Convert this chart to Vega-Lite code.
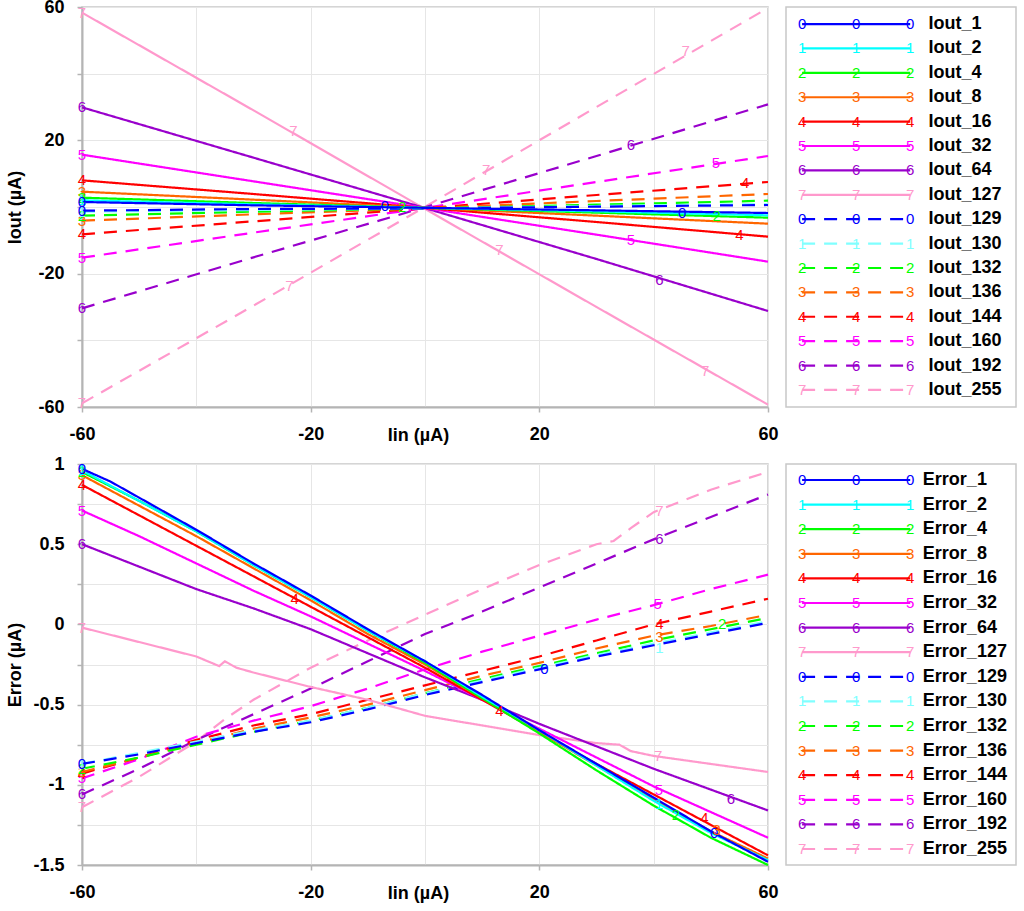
{
  "$schema": "https://vega.github.io/schema/vega-lite/v6.json",
  "description": "Iout and Error versus Iin for 16 codes",
  "background": "white",
  "padding": {"left": 5, "top": -3, "right": 0, "bottom": 0},

  "datasets": {
    "series": [
      {"s": "1", "d": "0", "top": "Iout_1", "bot": "Error_1"},
      {"s": "2", "d": "1", "top": "Iout_2", "bot": "Error_2"},
      {"s": "4", "d": "2", "top": "Iout_4", "bot": "Error_4"},
      {"s": "8", "d": "3", "top": "Iout_8", "bot": "Error_8"},
      {"s": "16", "d": "4", "top": "Iout_16", "bot": "Error_16"},
      {"s": "32", "d": "5", "top": "Iout_32", "bot": "Error_32"},
      {"s": "64", "d": "6", "top": "Iout_64", "bot": "Error_64"},
      {"s": "127", "d": "7", "top": "Iout_127", "bot": "Error_127"},
      {"s": "129", "d": "0", "top": "Iout_129", "bot": "Error_129"},
      {"s": "130", "d": "1", "top": "Iout_130", "bot": "Error_130"},
      {"s": "132", "d": "2", "top": "Iout_132", "bot": "Error_132"},
      {"s": "136", "d": "3", "top": "Iout_136", "bot": "Error_136"},
      {"s": "144", "d": "4", "top": "Iout_144", "bot": "Error_144"},
      {"s": "160", "d": "5", "top": "Iout_160", "bot": "Error_160"},
      {"s": "192", "d": "6", "top": "Iout_192", "bot": "Error_192"},
      {"s": "255", "d": "7", "top": "Iout_255", "bot": "Error_255"}
    ],

    "iout": [
      {"s": "255", "x": -60, "y": -58.9}, {"s": "255", "x": -30, "y": -29.6}, {"s": "255", "x": 0, "y": 0.06}, {"s": "255", "x": 30, "y": 30.0}, {"s": "255", "x": 60, "y": 59.7},
      {"s": "192", "x": -60, "y": -30.4}, {"s": "192", "x": -30, "y": -15.1}, {"s": "192", "x": 0, "y": -0.06}, {"s": "192", "x": 30, "y": 15.3}, {"s": "192", "x": 60, "y": 30.8},
      {"s": "160", "x": -60, "y": -15.2}, {"s": "160", "x": -30, "y": -7.7}, {"s": "160", "x": 0, "y": -0.28}, {"s": "160", "x": 30, "y": 7.5}, {"s": "160", "x": 60, "y": 15.3},
      {"s": "144", "x": -60, "y": -8.2}, {"s": "144", "x": -30, "y": -4.3}, {"s": "144", "x": 0, "y": -0.38}, {"s": "144", "x": 30, "y": 3.6}, {"s": "144", "x": 60, "y": 7.5},
      {"s": "136", "x": -60, "y": -4.1}, {"s": "136", "x": -30, "y": -2.2}, {"s": "136", "x": 0, "y": -0.4}, {"s": "136", "x": 30, "y": 1.8}, {"s": "136", "x": 60, "y": 3.9},
      {"s": "132", "x": -60, "y": -2.6}, {"s": "132", "x": -30, "y": -1.4}, {"s": "132", "x": 0, "y": -0.43}, {"s": "132", "x": 30, "y": 0.7}, {"s": "132", "x": 60, "y": 1.9},
      {"s": "130", "x": -60, "y": -1.4}, {"s": "130", "x": -30, "y": -0.9}, {"s": "130", "x": 0, "y": -0.44}, {"s": "130", "x": 30, "y": 0.3}, {"s": "130", "x": 60, "y": 0.9},
      {"s": "129", "x": -60, "y": -1.1}, {"s": "129", "x": -30, "y": -0.6}, {"s": "129", "x": 0, "y": -0.44}, {"s": "129", "x": 30, "y": 0.1}, {"s": "129", "x": 60, "y": 0.6},
      {"s": "127", "x": -60, "y": 58.3}, {"s": "127", "x": -30, "y": 29.0}, {"s": "127", "x": 0, "y": -0.57}, {"s": "127", "x": 30, "y": -30.0}, {"s": "127", "x": 60, "y": -59.3},
      {"s": "64", "x": -60, "y": 29.9}, {"s": "64", "x": -30, "y": 14.8}, {"s": "64", "x": 0, "y": -0.33}, {"s": "64", "x": 30, "y": -15.6}, {"s": "64", "x": 60, "y": -31.2},
      {"s": "32", "x": -60, "y": 15.7}, {"s": "32", "x": -30, "y": 7.7}, {"s": "32", "x": 0, "y": -0.3}, {"s": "32", "x": 30, "y": -8.3}, {"s": "32", "x": 60, "y": -16.4},
      {"s": "16", "x": -60, "y": 8.0}, {"s": "16", "x": -30, "y": 3.9}, {"s": "16", "x": 0, "y": -0.27}, {"s": "16", "x": 30, "y": -4.5}, {"s": "16", "x": 60, "y": -8.9},
      {"s": "8", "x": -60, "y": 4.6}, {"s": "8", "x": -30, "y": 2.2}, {"s": "8", "x": 0, "y": -0.25}, {"s": "8", "x": 30, "y": -2.6}, {"s": "8", "x": 60, "y": -5.0},
      {"s": "4", "x": -60, "y": 2.8}, {"s": "4", "x": -30, "y": 1.2}, {"s": "4", "x": 0, "y": -0.25}, {"s": "4", "x": 30, "y": -1.7}, {"s": "4", "x": 60, "y": -3.2},
      {"s": "2", "x": -60, "y": 2.0}, {"s": "2", "x": -30, "y": 0.8}, {"s": "2", "x": 0, "y": -0.25}, {"s": "2", "x": 30, "y": -1.3}, {"s": "2", "x": 60, "y": -2.5},
      {"s": "1", "x": -60, "y": 1.5}, {"s": "1", "x": -30, "y": 0.5}, {"s": "1", "x": 0, "y": -0.25}, {"s": "1", "x": 30, "y": -1.0}, {"s": "1", "x": 60, "y": -1.8}
    ],

    "iout_mk": [
      {"s": "255", "d": "7", "x": -60, "y": -58.9}, {"s": "192", "d": "6", "x": -60, "y": -30.4},
      {"s": "160", "d": "5", "x": -60, "y": -15.2}, {"s": "144", "d": "4", "x": -60, "y": -8.2},
      {"s": "136", "d": "3", "x": -60, "y": -4.1}, {"s": "132", "d": "2", "x": -60, "y": -2.6},
      {"s": "130", "d": "1", "x": -60, "y": -1.4}, {"s": "129", "d": "0", "x": -60, "y": -1.1},
      {"s": "127", "d": "7", "x": -60, "y": 58.3}, {"s": "64", "d": "6", "x": -60, "y": 29.9},
      {"s": "32", "d": "5", "x": -60, "y": 15.7}, {"s": "16", "d": "4", "x": -60, "y": 8.0},
      {"s": "8", "d": "3", "x": -60, "y": 4.6}, {"s": "4", "d": "2", "x": -60, "y": 2.8},
      {"s": "2", "d": "1", "x": -60, "y": 2.0}, {"s": "1", "d": "0", "x": -60, "y": 1.5},
      {"s": "127", "d": "7", "x": -23, "y": 22.7}, {"s": "127", "d": "7", "x": 13, "y": -12.8}, {"s": "127", "d": "7", "x": 49, "y": -49.3},
      {"s": "255", "d": "7", "x": -23.7, "y": -23.8}, {"s": "255", "d": "7", "x": 10.7, "y": 11.2}, {"s": "255", "d": "7", "x": 45.6, "y": 46.7},
      {"s": "64", "d": "6", "x": 41, "y": -21.8}, {"s": "192", "d": "6", "x": 36, "y": 18.5},
      {"s": "160", "d": "5", "x": 50.9, "y": 13.2}, {"s": "32", "d": "5", "x": 36, "y": -9.8},
      {"s": "144", "d": "4", "x": 56, "y": 7.2}, {"s": "16", "d": "4", "x": 55, "y": -8.3},
      {"s": "4", "d": "2", "x": 51, "y": -2.7}, {"s": "1", "d": "0", "x": 45, "y": -1.8},
      {"s": "1", "d": "0", "x": -7, "y": 0.2}, {"s": "132", "d": "2", "x": -4, "y": 0.1}
    ],

    "err": [
      {"s": "255", "x": -60, "y": -1.14}, {"s": "255", "x": -50, "y": -0.95}, {"s": "255", "x": -40, "y": -0.73}, {"s": "255", "x": -35, "y": -0.59}, {"s": "255", "x": -30, "y": -0.47}, {"s": "255", "x": -20, "y": -0.27}, {"s": "255", "x": -10, "y": -0.10}, {"s": "255", "x": 0, "y": 0.06}, {"s": "255", "x": 10, "y": 0.22}, {"s": "255", "x": 20, "y": 0.37}, {"s": "255", "x": 30, "y": 0.50}, {"s": "255", "x": 33, "y": 0.52}, {"s": "255", "x": 36, "y": 0.60}, {"s": "255", "x": 40, "y": 0.70}, {"s": "255", "x": 50, "y": 0.84}, {"s": "255", "x": 60, "y": 0.95},
      {"s": "192", "x": -60, "y": -1.06}, {"s": "192", "x": -50, "y": -0.90}, {"s": "192", "x": -40, "y": -0.72}, {"s": "192", "x": -30, "y": -0.56}, {"s": "192", "x": -20, "y": -0.40}, {"s": "192", "x": -10, "y": -0.23}, {"s": "192", "x": 0, "y": -0.06}, {"s": "192", "x": 10, "y": 0.08}, {"s": "192", "x": 20, "y": 0.23}, {"s": "192", "x": 30, "y": 0.38}, {"s": "192", "x": 40, "y": 0.53}, {"s": "192", "x": 50, "y": 0.67}, {"s": "192", "x": 60, "y": 0.81},
      {"s": "160", "x": -60, "y": -0.96}, {"s": "160", "x": -50, "y": -0.84}, {"s": "160", "x": -40, "y": -0.70}, {"s": "160", "x": -30, "y": -0.60}, {"s": "160", "x": -20, "y": -0.51}, {"s": "160", "x": -10, "y": -0.40}, {"s": "160", "x": 0, "y": -0.28}, {"s": "160", "x": 10, "y": -0.17}, {"s": "160", "x": 20, "y": -0.07}, {"s": "160", "x": 30, "y": 0.03}, {"s": "160", "x": 40, "y": 0.12}, {"s": "160", "x": 50, "y": 0.22}, {"s": "160", "x": 60, "y": 0.31},
      {"s": "144", "x": -60, "y": -0.93}, {"s": "144", "x": -50, "y": -0.83}, {"s": "144", "x": -40, "y": -0.72}, {"s": "144", "x": -30, "y": -0.63}, {"s": "144", "x": -20, "y": -0.56}, {"s": "144", "x": -10, "y": -0.47}, {"s": "144", "x": 0, "y": -0.38}, {"s": "144", "x": 10, "y": -0.29}, {"s": "144", "x": 20, "y": -0.20}, {"s": "144", "x": 30, "y": -0.10}, {"s": "144", "x": 40, "y": 0.00}, {"s": "144", "x": 50, "y": 0.08}, {"s": "144", "x": 60, "y": 0.16},
      {"s": "136", "x": -60, "y": -0.92}, {"s": "136", "x": -50, "y": -0.83}, {"s": "136", "x": -40, "y": -0.74}, {"s": "136", "x": -30, "y": -0.65}, {"s": "136", "x": -20, "y": -0.58}, {"s": "136", "x": -10, "y": -0.50}, {"s": "136", "x": 0, "y": -0.41}, {"s": "136", "x": 10, "y": -0.32}, {"s": "136", "x": 20, "y": -0.24}, {"s": "136", "x": 30, "y": -0.15}, {"s": "136", "x": 40, "y": -0.07}, {"s": "136", "x": 50, "y": -0.01}, {"s": "136", "x": 60, "y": 0.06},
      {"s": "132", "x": -60, "y": -0.90}, {"s": "132", "x": -50, "y": -0.83}, {"s": "132", "x": -40, "y": -0.75}, {"s": "132", "x": -30, "y": -0.67}, {"s": "132", "x": -20, "y": -0.60}, {"s": "132", "x": -10, "y": -0.52}, {"s": "132", "x": 0, "y": -0.43}, {"s": "132", "x": 10, "y": -0.34}, {"s": "132", "x": 20, "y": -0.26}, {"s": "132", "x": 30, "y": -0.18}, {"s": "132", "x": 40, "y": -0.10}, {"s": "132", "x": 50, "y": -0.03}, {"s": "132", "x": 60, "y": 0.04},
      {"s": "130", "x": -60, "y": -0.87}, {"s": "130", "x": -50, "y": -0.80}, {"s": "130", "x": -40, "y": -0.73}, {"s": "130", "x": -30, "y": -0.66}, {"s": "130", "x": -20, "y": -0.60}, {"s": "130", "x": -10, "y": -0.52}, {"s": "130", "x": 0, "y": -0.43}, {"s": "130", "x": 10, "y": -0.35}, {"s": "130", "x": 20, "y": -0.27}, {"s": "130", "x": 30, "y": -0.19}, {"s": "130", "x": 40, "y": -0.12}, {"s": "130", "x": 50, "y": -0.05}, {"s": "130", "x": 60, "y": 0.02},
      {"s": "129", "x": -60, "y": -0.87}, {"s": "129", "x": -50, "y": -0.81}, {"s": "129", "x": -40, "y": -0.74}, {"s": "129", "x": -30, "y": -0.67}, {"s": "129", "x": -20, "y": -0.61}, {"s": "129", "x": -10, "y": -0.53}, {"s": "129", "x": 0, "y": -0.44}, {"s": "129", "x": 10, "y": -0.36}, {"s": "129", "x": 20, "y": -0.28}, {"s": "129", "x": 30, "y": -0.20}, {"s": "129", "x": 40, "y": -0.13}, {"s": "129", "x": 50, "y": -0.06}, {"s": "129", "x": 60, "y": 0.01},
      {"s": "127", "x": -60, "y": -0.02}, {"s": "127", "x": -50, "y": -0.11}, {"s": "127", "x": -40, "y": -0.20}, {"s": "127", "x": -36, "y": -0.26}, {"s": "127", "x": -35, "y": -0.23}, {"s": "127", "x": -33, "y": -0.27}, {"s": "127", "x": -30, "y": -0.30}, {"s": "127", "x": -20, "y": -0.39}, {"s": "127", "x": -10, "y": -0.47}, {"s": "127", "x": 0, "y": -0.57}, {"s": "127", "x": 10, "y": -0.63}, {"s": "127", "x": 20, "y": -0.69}, {"s": "127", "x": 30, "y": -0.74}, {"s": "127", "x": 34, "y": -0.75}, {"s": "127", "x": 36, "y": -0.79}, {"s": "127", "x": 40, "y": -0.82}, {"s": "127", "x": 50, "y": -0.87}, {"s": "127", "x": 60, "y": -0.92},
      {"s": "64", "x": -60, "y": 0.50}, {"s": "64", "x": -50, "y": 0.36}, {"s": "64", "x": -40, "y": 0.22}, {"s": "64", "x": -30, "y": 0.10}, {"s": "64", "x": -20, "y": -0.03}, {"s": "64", "x": -10, "y": -0.18}, {"s": "64", "x": 0, "y": -0.33}, {"s": "64", "x": 10, "y": -0.47}, {"s": "64", "x": 20, "y": -0.62}, {"s": "64", "x": 30, "y": -0.76}, {"s": "64", "x": 40, "y": -0.90}, {"s": "64", "x": 50, "y": -1.03}, {"s": "64", "x": 60, "y": -1.16},
      {"s": "32", "x": -60, "y": 0.71}, {"s": "32", "x": -50, "y": 0.55}, {"s": "32", "x": -40, "y": 0.38}, {"s": "32", "x": -30, "y": 0.21}, {"s": "32", "x": -20, "y": 0.05}, {"s": "32", "x": -10, "y": -0.12}, {"s": "32", "x": 0, "y": -0.29}, {"s": "32", "x": 10, "y": -0.47}, {"s": "32", "x": 20, "y": -0.65}, {"s": "32", "x": 30, "y": -0.83}, {"s": "32", "x": 40, "y": -1.01}, {"s": "32", "x": 50, "y": -1.17}, {"s": "32", "x": 60, "y": -1.33},
      {"s": "16", "x": -60, "y": 0.87}, {"s": "16", "x": -50, "y": 0.68}, {"s": "16", "x": -40, "y": 0.49}, {"s": "16", "x": -30, "y": 0.30}, {"s": "16", "x": -20, "y": 0.11}, {"s": "16", "x": -10, "y": -0.08}, {"s": "16", "x": 0, "y": -0.27}, {"s": "16", "x": 10, "y": -0.47}, {"s": "16", "x": 20, "y": -0.67}, {"s": "16", "x": 30, "y": -0.87}, {"s": "16", "x": 40, "y": -1.06}, {"s": "16", "x": 50, "y": -1.25}, {"s": "16", "x": 60, "y": -1.44},
      {"s": "8", "x": -60, "y": 0.93}, {"s": "8", "x": -50, "y": 0.74}, {"s": "8", "x": -40, "y": 0.55}, {"s": "8", "x": -30, "y": 0.35}, {"s": "8", "x": -20, "y": 0.15}, {"s": "8", "x": -10, "y": -0.06}, {"s": "8", "x": 0, "y": -0.25}, {"s": "8", "x": 10, "y": -0.46}, {"s": "8", "x": 20, "y": -0.67}, {"s": "8", "x": 30, "y": -0.88}, {"s": "8", "x": 40, "y": -1.09}, {"s": "8", "x": 50, "y": -1.29}, {"s": "8", "x": 60, "y": -1.46},
      {"s": "4", "x": -60, "y": 0.95}, {"s": "4", "x": -50, "y": 0.77}, {"s": "4", "x": -40, "y": 0.58}, {"s": "4", "x": -30, "y": 0.37}, {"s": "4", "x": -20, "y": 0.17}, {"s": "4", "x": -10, "y": -0.04}, {"s": "4", "x": 0, "y": -0.24}, {"s": "4", "x": 10, "y": -0.46}, {"s": "4", "x": 20, "y": -0.68}, {"s": "4", "x": 30, "y": -0.91}, {"s": "4", "x": 40, "y": -1.13}, {"s": "4", "x": 50, "y": -1.33}, {"s": "4", "x": 60, "y": -1.50},
      {"s": "2", "x": -60, "y": 0.96}, {"s": "2", "x": -50, "y": 0.77}, {"s": "2", "x": -40, "y": 0.58}, {"s": "2", "x": -30, "y": 0.37}, {"s": "2", "x": -20, "y": 0.17}, {"s": "2", "x": -10, "y": -0.04}, {"s": "2", "x": 0, "y": -0.23}, {"s": "2", "x": 10, "y": -0.45}, {"s": "2", "x": 20, "y": -0.66}, {"s": "2", "x": 30, "y": -0.88}, {"s": "2", "x": 40, "y": -1.10}, {"s": "2", "x": 50, "y": -1.30}, {"s": "2", "x": 60, "y": -1.47},
      {"s": "1", "x": -60, "y": 0.97}, {"s": "1", "x": -55, "y": 0.89}, {"s": "1", "x": -50, "y": 0.79}, {"s": "1", "x": -40, "y": 0.59}, {"s": "1", "x": -30, "y": 0.38}, {"s": "1", "x": -20, "y": 0.18}, {"s": "1", "x": -10, "y": -0.03}, {"s": "1", "x": 0, "y": -0.23}, {"s": "1", "x": 10, "y": -0.44}, {"s": "1", "x": 20, "y": -0.66}, {"s": "1", "x": 30, "y": -0.87}, {"s": "1", "x": 40, "y": -1.08}, {"s": "1", "x": 50, "y": -1.29}, {"s": "1", "x": 60, "y": -1.48}
    ],

    "err_mk": [
      {"s": "255", "d": "7", "x": -60, "y": -1.14}, {"s": "192", "d": "6", "x": -60, "y": -1.06},
      {"s": "160", "d": "5", "x": -60, "y": -0.96}, {"s": "144", "d": "4", "x": -60, "y": -0.93},
      {"s": "136", "d": "3", "x": -60, "y": -0.92}, {"s": "132", "d": "2", "x": -60, "y": -0.90},
      {"s": "130", "d": "1", "x": -60, "y": -0.87}, {"s": "129", "d": "0", "x": -60, "y": -0.87},
      {"s": "127", "d": "7", "x": -60, "y": -0.02}, {"s": "64", "d": "6", "x": -60, "y": 0.50},
      {"s": "32", "d": "5", "x": -60, "y": 0.71}, {"s": "16", "d": "4", "x": -60, "y": 0.87},
      {"s": "8", "d": "3", "x": -60, "y": 0.93}, {"s": "4", "d": "2", "x": -60, "y": 0.95},
      {"s": "2", "d": "1", "x": -60, "y": 0.96}, {"s": "1", "d": "0", "x": -60, "y": 0.97},
      {"s": "16", "d": "4", "x": -22.8, "y": 0.16}, {"s": "16", "d": "4", "x": 13, "y": -0.54}, {"s": "16", "d": "4", "x": 48.9, "y": -1.21},
      {"s": "129", "d": "0", "x": 20.9, "y": -0.28}, {"s": "160", "d": "5", "x": 40.7, "y": 0.13},
      {"s": "144", "d": "4", "x": 41, "y": 0.0}, {"s": "136", "d": "3", "x": 41, "y": -0.08},
      {"s": "130", "d": "1", "x": 41, "y": -0.15}, {"s": "132", "d": "2", "x": 52, "y": 0.0},
      {"s": "127", "d": "7", "x": 40.8, "y": -0.82}, {"s": "255", "d": "7", "x": 41, "y": 0.71},
      {"s": "192", "d": "6", "x": 41, "y": 0.53}, {"s": "64", "d": "6", "x": 53.5, "y": -1.09},
      {"s": "32", "d": "5", "x": 40.9, "y": -1.03}, {"s": "2", "d": "1", "x": 40.9, "y": -1.12},
      {"s": "4", "d": "2", "x": 43.9, "y": -1.19}, {"s": "1", "d": "0", "x": 50.6, "y": -1.30},
      {"s": "8", "d": "3", "x": 51, "y": -1.28}
    ]
  },

  "spacing": 9,
  "resolve": {"scale": {"x": "independent", "y": "independent"}},

  "vconcat": [
    {
      "spacing": 18,
      "bounds": "flush",
      "resolve": {"scale": {"x": "independent", "y": "independent"}},
      "hconcat": [
        {
          "width": 686,
          "height": 400,
          "layer": [
            {
              "data": {"name": "iout"},
              "mark": {"type": "line", "strokeWidth": 2.2},
              "encoding": {
                "x": {
                  "field": "x", "type": "quantitative",
                  "scale": {"domain": [-60, 60], "nice": false, "zero": false},
                  "axis": {
                    "title": "Iin (µA)", "titleY": 28, "titleBaseline": "middle", "titleX": 336,
                    "values": [-60, -40, -20, 0, 20, 40, 60],
                    "labelExpr": "abs(datum.value % 40) == 20 ? '' + datum.value : ''",
                    "tickOpacity": {"condition": {"test": "abs(datum.value % 40) == 20", "value": 1}, "value": 0},
                    "labelPadding": 13, "labelFlush": false, "labelOverlap": false
                  }
                },
                "y": {
                  "field": "y", "type": "quantitative",
                  "scale": {"domain": [-60, 60], "nice": false, "zero": false},
                  "axis": {
                    "title": "Iout (µA)", "titlePadding": 12,
                    "values": [-60, -40, -20, 0, 20, 40, 60],
                    "labelExpr": "abs(datum.value % 40) == 20 ? '' + datum.value : ''",
                    "labelPadding": 13, "labelFlush": false, "labelOverlap": false,
                    "minExtent": 46, "maxExtent": 46
                  }
                },
                "color": {
                  "field": "s", "type": "nominal", "legend": null,
                  "scale": {
                    "domain": ["1", "2", "4", "8", "16", "32", "64", "127", "129", "130", "132", "136", "144", "160", "192", "255"],
                    "range": ["#0000FF", "#00FFFF", "#00FF00", "#FF6600", "#FF0000", "#FF00FF", "#9900CC", "#FF99CC", "#0000FF", "#80FFFF", "#00FF00", "#FF6600", "#FF0000", "#FF00FF", "#9900CC", "#FF99CC"]
                  }
                },
                "strokeDash": {
                  "field": "s", "type": "nominal", "legend": null,
                  "scale": {
                    "domain": ["1", "2", "4", "8", "16", "32", "64", "127", "129", "130", "132", "136", "144", "160", "192", "255"],
                    "range": [[1, 0], [1, 0], [1, 0], [1, 0], [1, 0], [1, 0], [1, 0], [1, 0], [13, 9], [13, 9], [13, 9], [13, 9], [13, 9], [13, 9], [13, 9], [13, 9]]
                  }
                }
              }
            },
            {
              "data": {"name": "iout_mk"},
              "mark": {"type": "text", "fontSize": 15, "font": "Liberation Sans", "baseline": "middle"},
              "encoding": {
                "x": {"field": "x", "type": "quantitative"},
                "y": {"field": "y", "type": "quantitative"},
                "text": {"field": "d"},
                "color": {"field": "s", "type": "nominal", "legend": null}
              }
            }
          ]
        },
        {
          "width": 230,
          "height": 400,
          "data": {"name": "series"},
          "encoding": {
            "y": {
              "field": "s", "type": "nominal", "axis": null,
              "scale": {"type": "point", "padding": 0.7, "domain": ["1", "2", "4", "8", "16", "32", "64", "127", "129", "130", "132", "136", "144", "160", "192", "255"]}
            },
            "color": {"field": "s", "type": "nominal", "legend": null}
          },
          "layer": [
            {
              "mark": {"type": "rule", "strokeWidth": 2.2},
              "encoding": {
                "x": {"datum": 0.07, "type": "quantitative", "scale": {"domain": [0, 1], "nice": false}, "axis": null},
                "x2": {"datum": 0.54},
                "strokeDash": {"field": "s", "type": "nominal", "legend": null}
              }
            },
            {
              "mark": {"type": "text", "fontSize": 15, "font": "Liberation Sans", "baseline": "middle"},
              "encoding": {"x": {"datum": 0.07, "type": "quantitative"}, "text": {"field": "d"}}
            },
            {
              "mark": {"type": "text", "fontSize": 15, "font": "Liberation Sans", "baseline": "middle"},
              "encoding": {"x": {"datum": 0.305, "type": "quantitative"}, "text": {"field": "d"}}
            },
            {
              "mark": {"type": "text", "fontSize": 15, "font": "Liberation Sans", "baseline": "middle"},
              "encoding": {"x": {"datum": 0.54, "type": "quantitative"}, "text": {"field": "d"}}
            },
            {
              "mark": {"type": "text", "fontSize": 18, "fontWeight": "bold", "font": "Liberation Sans", "align": "left", "baseline": "middle"},
              "encoding": {"x": {"datum": 0.62, "type": "quantitative"}, "text": {"field": "top"}, "color": {"value": "#000000"}}
            }
          ]
        }
      ]
    },
    {
      "spacing": 18,
      "bounds": "flush",
      "resolve": {"scale": {"x": "independent", "y": "independent"}},
      "hconcat": [
        {
          "width": 686,
          "height": 401,
          "layer": [
            {
              "data": {"name": "err"},
              "mark": {"type": "line", "strokeWidth": 2.2},
              "encoding": {
                "x": {
                  "field": "x", "type": "quantitative",
                  "scale": {"domain": [-60, 60], "nice": false, "zero": false},
                  "axis": {
                    "title": "Iin (µA)", "titleY": 28, "titleBaseline": "middle", "titleX": 336,
                    "values": [-60, -40, -20, 0, 20, 40, 60],
                    "labelExpr": "abs(datum.value % 40) == 20 ? '' + datum.value : ''",
                    "tickOpacity": {"condition": {"test": "abs(datum.value % 40) == 20", "value": 1}, "value": 0},
                    "labelPadding": 13, "labelFlush": false, "labelOverlap": false
                  }
                },
                "y": {
                  "field": "y", "type": "quantitative",
                  "scale": {"domain": [-1.5, 1], "nice": false, "zero": false},
                  "axis": {
                    "title": "Error (µA)", "titlePadding": 12,
                    "values": [-1.5, -1.25, -1, -0.75, -0.5, -0.25, 0, 0.25, 0.5, 0.75, 1],
                    "labelExpr": "abs(datum.value % 0.5) < 0.001 ? '' + datum.value : ''",
                    "labelPadding": 13, "labelFlush": false, "labelOverlap": false,
                    "minExtent": 46, "maxExtent": 46
                  }
                },
                "color": {
                  "field": "s", "type": "nominal", "legend": null,
                  "scale": {
                    "domain": ["1", "2", "4", "8", "16", "32", "64", "127", "129", "130", "132", "136", "144", "160", "192", "255"],
                    "range": ["#0000FF", "#00FFFF", "#00FF00", "#FF6600", "#FF0000", "#FF00FF", "#9900CC", "#FF99CC", "#0000FF", "#80FFFF", "#00FF00", "#FF6600", "#FF0000", "#FF00FF", "#9900CC", "#FF99CC"]
                  }
                },
                "strokeDash": {
                  "field": "s", "type": "nominal", "legend": null,
                  "scale": {
                    "domain": ["1", "2", "4", "8", "16", "32", "64", "127", "129", "130", "132", "136", "144", "160", "192", "255"],
                    "range": [[1, 0], [1, 0], [1, 0], [1, 0], [1, 0], [1, 0], [1, 0], [1, 0], [13, 9], [13, 9], [13, 9], [13, 9], [13, 9], [13, 9], [13, 9], [13, 9]]
                  }
                }
              }
            },
            {
              "data": {"name": "err_mk"},
              "mark": {"type": "text", "fontSize": 15, "font": "Liberation Sans", "baseline": "middle"},
              "encoding": {
                "x": {"field": "x", "type": "quantitative"},
                "y": {"field": "y", "type": "quantitative"},
                "text": {"field": "d"},
                "color": {"field": "s", "type": "nominal", "legend": null}
              }
            }
          ]
        },
        {
          "width": 230,
          "height": 401,
          "data": {"name": "series"},
          "encoding": {
            "y": {
              "field": "s", "type": "nominal", "axis": null,
              "scale": {"type": "point", "padding": 0.65, "domain": ["1", "2", "4", "8", "16", "32", "64", "127", "129", "130", "132", "136", "144", "160", "192", "255"]}
            },
            "color": {"field": "s", "type": "nominal", "legend": null}
          },
          "layer": [
            {
              "mark": {"type": "rule", "strokeWidth": 2.2},
              "encoding": {
                "x": {"datum": 0.07, "type": "quantitative", "scale": {"domain": [0, 1], "nice": false}, "axis": null},
                "x2": {"datum": 0.54},
                "strokeDash": {"field": "s", "type": "nominal", "legend": null}
              }
            },
            {
              "mark": {"type": "text", "fontSize": 15, "font": "Liberation Sans", "baseline": "middle"},
              "encoding": {"x": {"datum": 0.07, "type": "quantitative"}, "text": {"field": "d"}}
            },
            {
              "mark": {"type": "text", "fontSize": 15, "font": "Liberation Sans", "baseline": "middle"},
              "encoding": {"x": {"datum": 0.305, "type": "quantitative"}, "text": {"field": "d"}}
            },
            {
              "mark": {"type": "text", "fontSize": 15, "font": "Liberation Sans", "baseline": "middle"},
              "encoding": {"x": {"datum": 0.54, "type": "quantitative"}, "text": {"field": "d"}}
            },
            {
              "mark": {"type": "text", "fontSize": 18, "fontWeight": "bold", "font": "Liberation Sans", "align": "left", "baseline": "middle"},
              "encoding": {"x": {"datum": 0.595, "type": "quantitative"}, "text": {"field": "bot"}, "color": {"value": "#000000"}}
            }
          ]
        }
      ]
    }
  ],

  "config": {
    "font": "Liberation Sans",
    "view": {"stroke": "#c8c8c8", "strokeWidth": 1.5},
    "axis": {
      "labelFont": "Liberation Sans", "labelFontSize": 18, "labelFontWeight": "bold", "labelColor": "#000000",
      "titleFont": "Liberation Sans", "titleFontSize": 18, "titleFontWeight": "bold", "titleColor": "#000000",
      "domainColor": "#b4b4b4", "domainWidth": 2,
      "tickColor": "#b4b4b4", "tickWidth": 1.5, "tickSize": 5,
      "grid": true, "gridColor": "#e6e6e6", "gridWidth": 1
    }
  }
}
